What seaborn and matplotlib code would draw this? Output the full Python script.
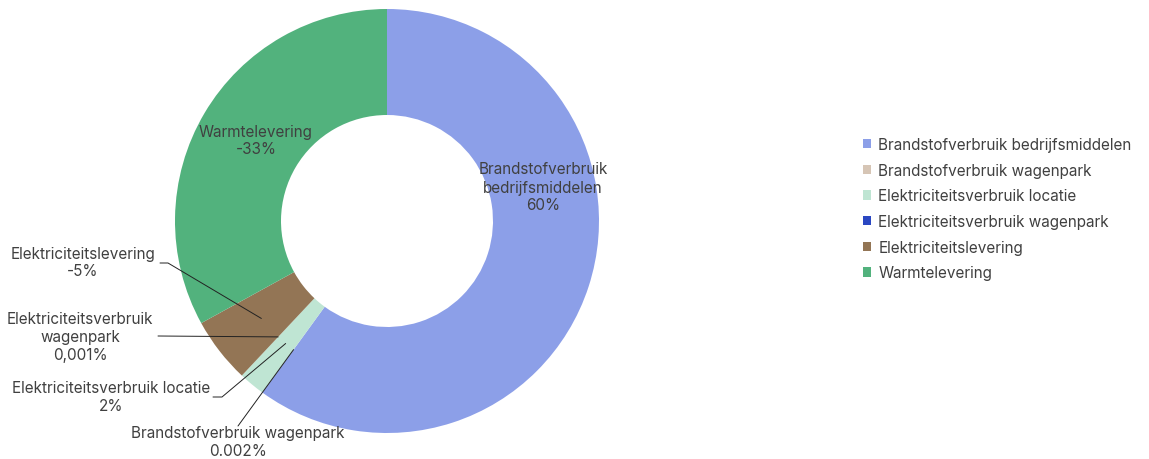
import numpy as np
import matplotlib
matplotlib.use("Agg")
import matplotlib.pyplot as plt
import seaborn as sns
from matplotlib.patches import Patch

categories = ["Brandstofverbruik bedrijfsmiddelen", "Brandstofverbruik wagenpark",
              "Elektriciteitsverbruik locatie", "Elektriciteitsverbruik wagenpark",
              "Elektriciteitslevering", "Warmtelevering"]
values = [60, 0.002, 2, 0.001, -5, -33]
pct_labels = ["60%", "0.002%", "2%", "0,001%", "-5%", "-33%"]
slice_labels = ["Brandstofverbruik\nbedrijfsmiddelen", "Brandstofverbruik wagenpark",
                "Elektriciteitsverbruik locatie", "Elektriciteitsverbruik\nwagenpark",
                "Elektriciteitslevering", "Warmtelevering"]
colors = ["#8C9FE8", "#D6C5B5", "#BFE5D3", "#2A47C2", "#937555", "#52B27D"]

sns.set_theme(style="white")
plt.rcParams["font.family"] = ["Inter", "DejaVu Sans"]
TXT = "#404040"

W, H = 1149, 460
cx, cy, R = 387, 222, 212
fig = plt.figure(figsize=(W / 100, H / 100), dpi=100)
ax = fig.add_axes([0, 0, 1, 1])

def px(x, y):
    return ((x - cx) / R, (cy - y) / R)

sizes = np.abs(values)
wedges, _ = ax.pie(sizes, colors=colors, startangle=90, counterclock=False,
                   radius=1.0, wedgeprops=dict(width=0.5, linewidth=0))
ax.set_xlim(-cx / R, (W - cx) / R)
ax.set_ylim((cy - H) / R, cy / R)
ax.set_aspect("equal", adjustable="box")
ax.axis("off")

def mid_point(w, r=0.75):
    a = np.deg2rad((w.theta1 + w.theta2) / 2)
    return r * np.cos(a), r * np.sin(a)

fs = 11
LS = 1.25
# inside labels
ax.text(*px(543, 188), f"{slice_labels[0]}\n{pct_labels[0]}", ha="center", va="center",
        fontsize=fs, color=TXT, linespacing=LS)
ax.text(*px(256, 141), f"{slice_labels[5]}\n{pct_labels[5]}", ha="center", va="center",
        fontsize=fs, color=TXT, linespacing=LS)

# outside labels with leaders: (index, text center px, leader path px)
outside = [
    (4, (83, 263), [(160, 264), (168, 264)]),
    (3, (80, 338), [(158, 337)]),
    (2, (111, 398), [(213, 398), (222, 398)]),
    (1, (238, 443), [(238, 427)]),
]
for i, (tx, ty), path in outside:
    ax.text(*px(tx, ty), f"{slice_labels[i]}\n{pct_labels[i]}", ha="center", va="center",
            fontsize=fs, color=TXT, linespacing=LS)
    pts = [px(*p) for p in path] + [mid_point(wedges[i])]
    xs, ys = zip(*pts)
    ax.plot(xs, ys, color="#222222", lw=0.7)

handles = [Patch(facecolor=c, edgecolor="none") for c in colors]
leg = ax.legend(handles, categories, loc="upper left", bbox_to_anchor=(863 / W, 1 - 138 / H),
                bbox_transform=fig.transFigure, frameon=False, fontsize=fs,
                handlelength=0.55, handleheight=0.55, handletextpad=0.45, labelspacing=0.7,
                borderpad=0, borderaxespad=0)
for t in leg.get_texts():
    t.set_color(TXT)

fig.savefig("out.png", dpi=100)
